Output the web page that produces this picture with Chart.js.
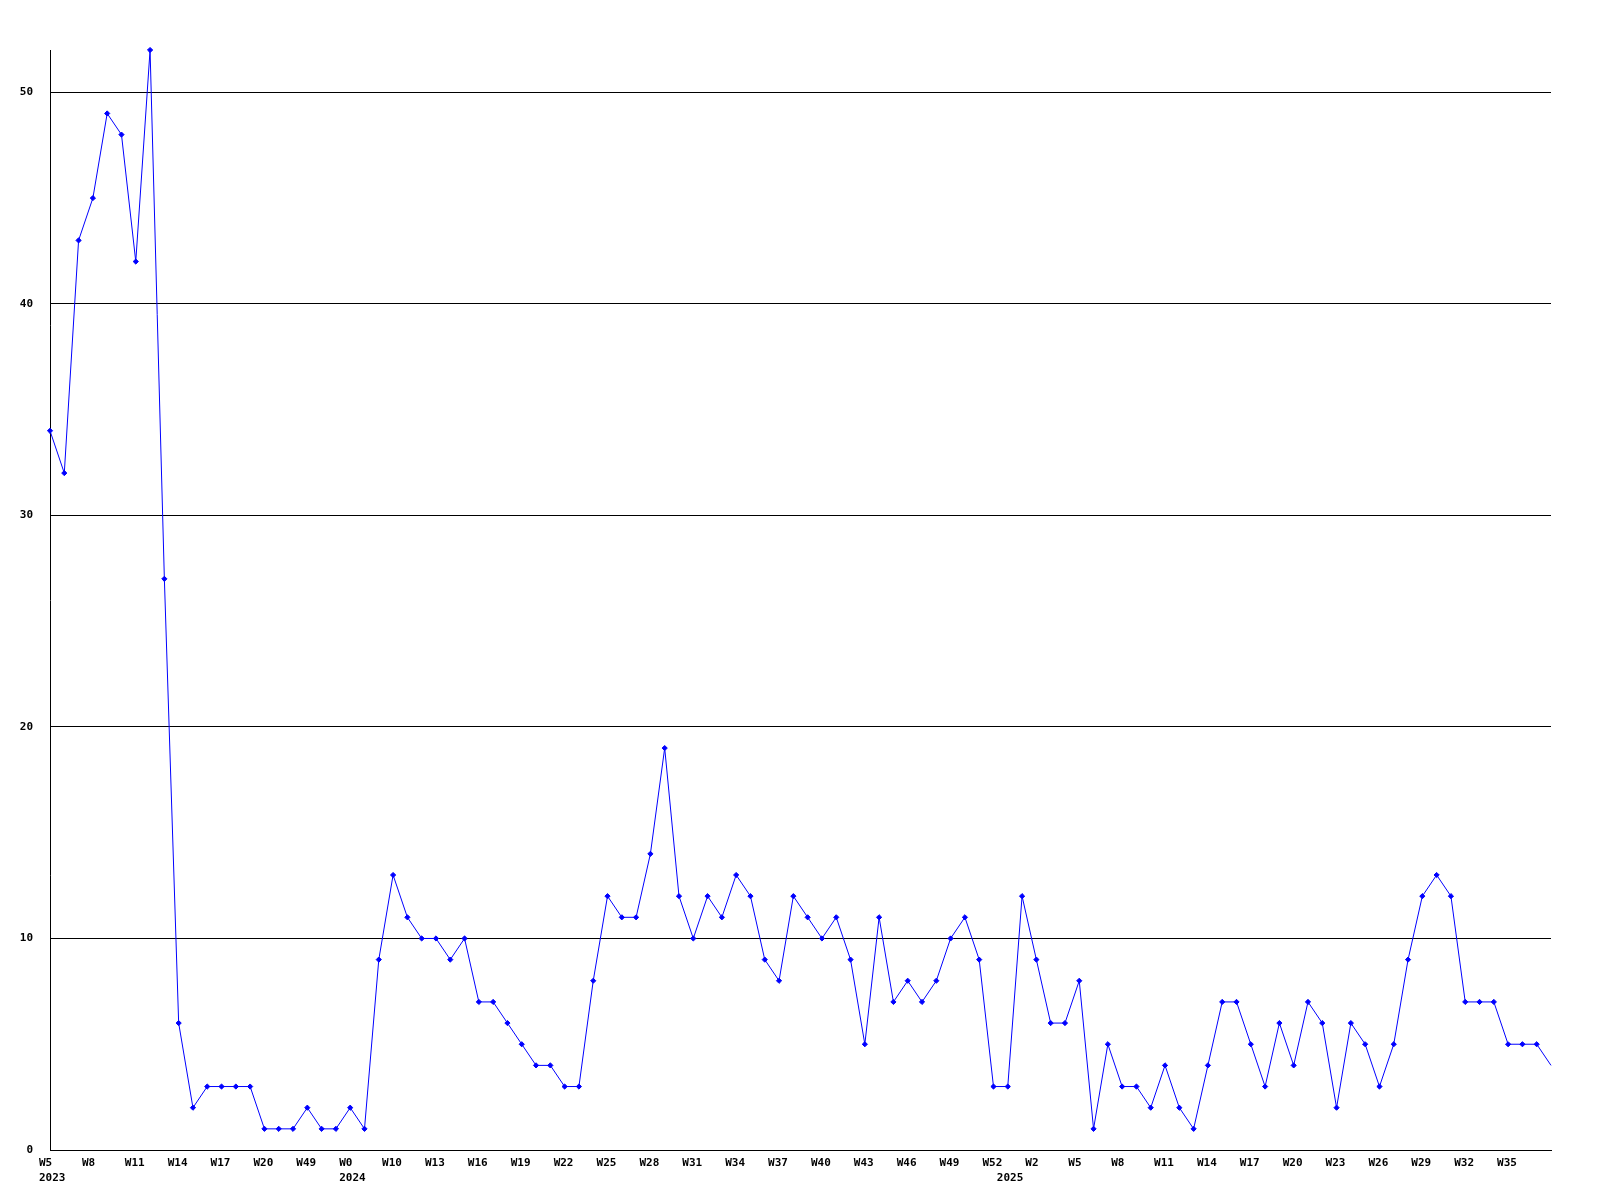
<!DOCTYPE html>
<html>
<head>
<meta charset="utf-8">
<script src="https://cdn.jsdelivr.net/npm/chart.js@4/dist/chart.umd.min.js"></script>
<style>
  html, body { margin: 0; padding: 0; background: #ffffff; }
  #wrap { width: 1600px; height: 1200px; }
</style>
</head>
<body>
<div id="wrap"><canvas id="c" width="1600" height="1200"></canvas></div>
<script>
// Weekly counts, one value per category (106 weeks)
const values = [
  34, 32, 43, 45, 49, 48, 42, 52, 27, 6,
  2, 3, 3, 3, 3, 1, 1, 1, 2, 1,
  1, 2, 1, 9, 13, 11, 10, 10, 9, 10,
  7, 7, 6, 5, 4, 4, 3, 3, 8, 12,
  11, 11, 14, 19, 12, 10, 12, 11, 13, 12,
  9, 8, 12, 11, 10, 11, 9, 5, 11, 7,
  8, 7, 8, 10, 11, 9, 3, 3, 12, 9,
  6, 6, 8, 1, 5, 3, 3, 2, 4, 2,
  1, 4, 7, 7, 5, 3, 6, 4, 7, 6,
  2, 6, 5, 3, 5, 9, 12, 13, 12, 7,
  7, 7, 5, 5, 5, 4
];

// Week tick labels, shown on every third category
const weekTicks = [
  'W5', 'W8', 'W11', 'W14', 'W17', 'W20', 'W49', 'W0', 'W10', 'W13',
  'W16', 'W19', 'W22', 'W25', 'W28', 'W31', 'W34', 'W37', 'W40', 'W43',
  'W46', 'W49', 'W52', 'W2', 'W5', 'W8', 'W11', 'W14', 'W17', 'W20',
  'W23', 'W26', 'W29', 'W32', 'W35'
];
const tickStep = 3;

// Year labels and the category where each year begins
const yearLabels = ['2023', '2024', '2025'];
const yearIndex = [0, 21, 67];

// y axis
const yMin = 0;
const yMax = 52;
const yStep = 10;

const categories = values.map((v, i) =>
  (i % tickStep === 0 && weekTicks[i / tickStep]) ? weekTicks[i / tickStep] : '');

const FONT = { family: '"DejaVu Sans Mono", "Liberation Mono", monospace', size: 11, weight: 'bold', lineHeight: 1.35 };
const lastIdx = values.length - 1;

new Chart(document.getElementById('c'), {
  type: 'line',
  data: {
    labels: categories,
    datasets: [{
      data: values,
      borderColor: '#0000ff',
      backgroundColor: '#0000ff',
      borderWidth: 1,
      tension: 0,
      fill: false,
      clip: false,
      pointStyle: 'rectRot',
      pointRadius: ctx => ctx.dataIndex === lastIdx ? 0 : 2.6,
      pointBorderWidth: 1,
      pointBorderColor: '#0000ff',
      pointBackgroundColor: '#0000ff'
    }]
  },
  options: {
    responsive: false,
    animation: false,
    events: [],
    layout: { padding: { top: 50, right: 49, left: 0, bottom: 0 } },
    plugins: { legend: { display: false }, tooltip: { enabled: false }, title: { display: false } },
    scales: {
      x: {
        type: 'category',
        offset: false,
        grid: { display: false, drawTicks: false },
        border: { display: true, color: '#000000', width: 1 },
        ticks: {
          autoSkip: false,
          maxRotation: 0,
          minRotation: 0,
          align: 'start',
          labelOffset: -11,
          padding: 6,
          color: '#000000',
          font: FONT,
          callback: function (value, index) {
            const w = categories[index] || '';
            const yi = yearIndex.indexOf(index);
            const y = yi >= 0 ? yearLabels[yi] : '';
            if (!y) return w;
            return [w, y];
          }
        },
        afterFit: s => { s.height = 50; }
      },
      y: {
        min: yMin,
        max: yMax,
        grid: { color: '#000000', lineWidth: 1, drawTicks: false },
        border: { display: true, color: '#000000', width: 1 },
        ticks: {
          stepSize: yStep,
          includeBounds: false,
          padding: 17,
          color: '#000000',
          font: FONT
        },
        afterFit: s => { s.width = 50; }
      }
    }
  }
});
</script>
</body>
</html>
